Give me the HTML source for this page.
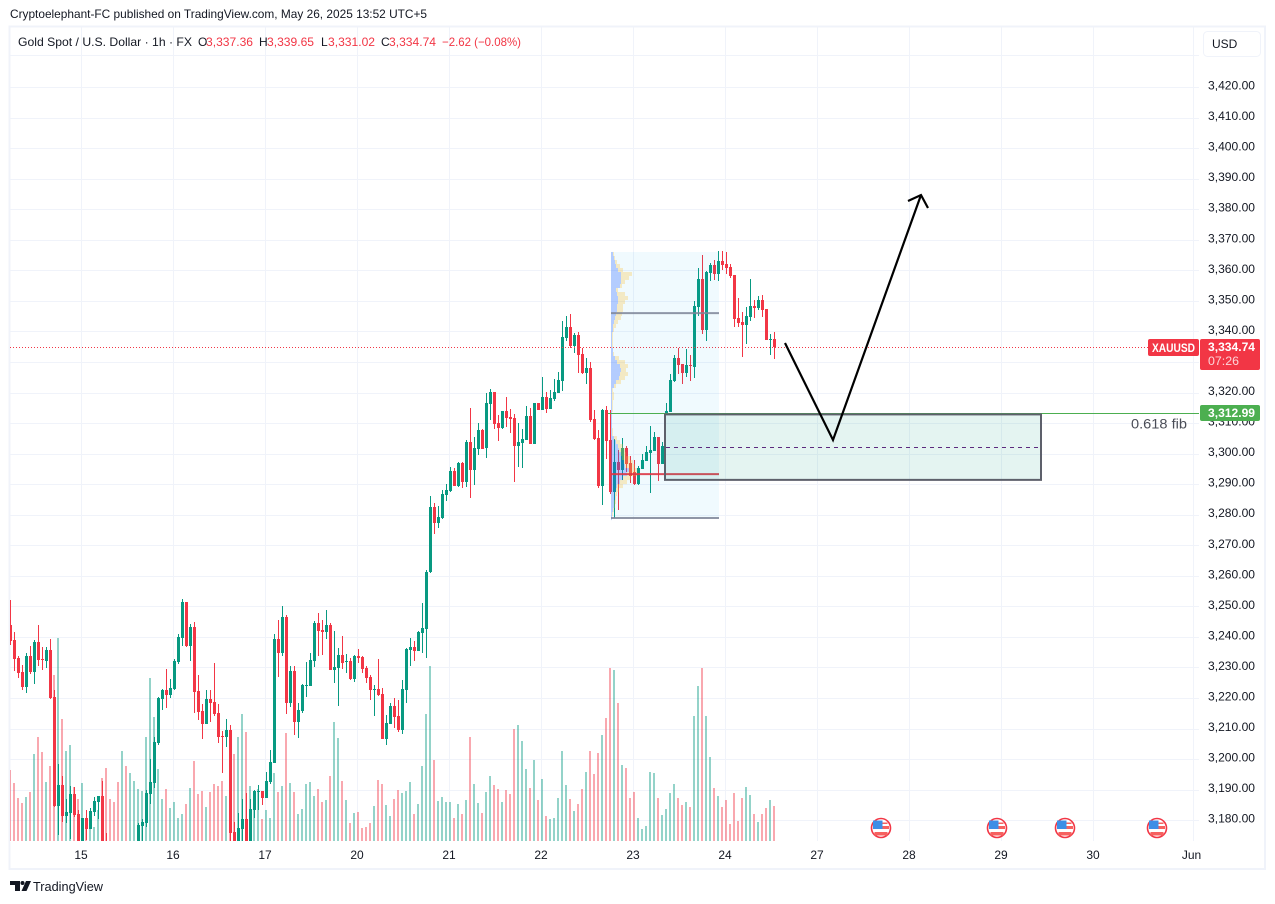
<!DOCTYPE html>
<html lang="en">
<head>
<meta charset="utf-8">
<title>XAUUSD chart</title>
<style>
html,body{margin:0;padding:0;background:#fff;width:1275px;height:904px;overflow:hidden}
svg{display:block;position:absolute;left:0;top:0}
text{font-family:"Liberation Sans",Arial,sans-serif}
</style>
</head>
<body>
<svg id="chart" width="1275" height="904" viewBox="0 0 1275 904" xmlns="http://www.w3.org/2000/svg">
  <defs><clipPath id="pane-clip"><rect x="10" y="27" width="1189" height="814"/></clipPath></defs>
  <rect x="9.5" y="26.5" width="1255.5" height="842.5" fill="none" stroke="#f0f3fa" stroke-width="2"/>
  <line x1="10" y1="841.5" x2="1199" y2="841.5" stroke="#ffffff"/>
  <g id="grid" clip-path="url(#pane-clip)"></g>
  <g id="volumes" clip-path="url(#pane-clip)"></g>
  <g id="candles" clip-path="url(#pane-clip)"></g>
  <g id="drawings" clip-path="url(#pane-clip)"></g>
  <g id="events"></g>
  <g id="y-axis"></g>
  <g id="x-axis"></g>

  <text x="10" y="18" font-size="12" fill="#131722" textLength="417" lengthAdjust="spacingAndGlyphs">Cryptoelephant-FC published on TradingView.com, May 26, 2025 13:52 UTC+5</text>
  <g font-size="12">
    <text x="18" y="46" fill="#131722" textLength="174" lengthAdjust="spacingAndGlyphs">Gold Spot / U.S. Dollar · 1h · FX</text>
    <text x="198" y="46" fill="#131722">O</text>
    <text x="206" y="46" fill="#f23645" textLength="47" lengthAdjust="spacingAndGlyphs">3,337.36</text>
    <text x="259" y="46" fill="#131722">H</text>
    <text x="267" y="46" fill="#f23645" textLength="47" lengthAdjust="spacingAndGlyphs">3,339.65</text>
    <text x="321" y="46" fill="#131722">L</text>
    <text x="328" y="46" fill="#f23645" textLength="47" lengthAdjust="spacingAndGlyphs">3,331.02</text>
    <text x="381" y="46" fill="#131722">C</text>
    <text x="389" y="46" fill="#f23645" textLength="47" lengthAdjust="spacingAndGlyphs">3,334.74</text>
    <text x="442" y="46" fill="#f23645" textLength="79" lengthAdjust="spacingAndGlyphs">−2.62 (−0.08%)</text>
  </g>

  <rect x="1203.5" y="31.5" width="57" height="25" rx="4" fill="#fff" stroke="#f0f3fa"/>
  <text x="1212" y="48" font-size="12" fill="#131722">USD</text>

  <text x="1131" y="428.5" font-size="14" fill="#4a4d57" textLength="56" lengthAdjust="spacingAndGlyphs">0.618 fib</text>

  <rect x="1148" y="339" width="51" height="17" rx="2" fill="#f23645"/>
  <text x="1152" y="352" font-size="12" font-weight="bold" fill="#fff" textLength="43" lengthAdjust="spacingAndGlyphs">XAUUSD</text>
  <rect x="1200" y="339" width="60" height="31" rx="2" fill="#f23645"/>
  <text x="1208" y="351" font-size="12" font-weight="bold" fill="#fff" textLength="47" lengthAdjust="spacingAndGlyphs">3,334.74</text>
  <text x="1208" y="365" font-size="12" fill="#fcd5d8" textLength="31" lengthAdjust="spacingAndGlyphs">07:26</text>
  <rect x="1200" y="405" width="60" height="16" rx="2" fill="#4caf50"/>
  <text x="1208" y="417" font-size="12" font-weight="bold" fill="#fff" textLength="47" lengthAdjust="spacingAndGlyphs">3,312.99</text>

  <g>
    <path d="M10 881h10v10h-5v-6h-5z" fill="#131722"/>
    <circle cx="22.5" cy="883" r="2" fill="#131722"/>
    <path d="M26 881h5l-4.5 10h-5z" fill="#131722"/>
    <text x="33" y="891" font-size="13" fill="#131722" textLength="70" lengthAdjust="spacingAndGlyphs">TradingView</text>
  </g>
</svg>

<script>
const opens = [3243.9,3239.0,3233.1,3228.5,3223.6,3233.7,3228.5,3238.3,3232.8,3232.1,3235.7,3220.3,3184.7,3191.5,3181.4,3182.4,3188.6,3182.0,3169,3180.7,3177.1,3182.7,3186.0,3187.9,3170,3165,3162,3160,3158,3165,3161,3165,3169,3178.1,3179.1,3188.6,3192.2,3205.3,3219.7,3222.6,3221.0,3222.9,3231.8,3239.6,3251.4,3237.0,3243.2,3222.3,3215.7,3211.5,3219.7,3218.7,3215.1,3207.6,3207.2,3209.5,3176.1,3171,3177.1,3180.4,3171,3183.4,3189.2,3189.6,3187.3,3192.5,3198.7,3239.3,3234.7,3246.5,3218.4,3228.8,3212.1,3215.7,3223.9,3223.9,3232.1,3244.5,3242.3,3241.6,3243.9,3229.2,3229.8,3234.1,3231.8,3232.1,3226.2,3233.7,3233.4,3229.8,3226.9,3222.6,3222.9,3221.3,3206.6,3211.5,3217.4,3214.1,3209.5,3222.6,3235.7,3236.7,3235.4,3241.3,3242.6,3261.2,3282.5,3277.3,3278.9,3286.4,3287.7,3294.3,3289.4,3296.9,3290.7,3303.8,3294.6,3301.5,3307.7,3301.8,3316.2,3320.1,3310.0,3308.4,3313.9,3311.9,3311.6,3302.5,3303.4,3304.4,3312.3,3303.1,3316.5,3314.2,3318.5,3314.6,3317.8,3319.8,3323.7,3337.8,3341.4,3335.2,3338.8,3332.6,3326.4,3328.0,3311.3,3305.1,3289.4,3314.2,3304.4,3287.4,3297.2,3294.6,3301.8,3296.9,3294.0,3290.0,3294.9,3297.6,3300.2,3300.8,3305.4,3296.6,3313.1,3313.6,3323.7,3331.3,3329.3,3326.4,3329.0,3328.3,3348.0,3357.1,3340.4,3359.1,3361.7,3358.8,3363.0,3362.0,3361.1,3358.4,3344.4,3343.1,3342.1,3344.7,3348.3,3347.6,3350.3,3347.3,3337.2,3337.36];
const highs = [3252.1,3241.6,3233.7,3230.8,3234.7,3237.0,3239.0,3243.9,3236.7,3236.7,3239.3,3222.6,3198.4,3194.5,3186.9,3191.2,3190.9,3183.4,3180.7,3183.4,3184.0,3187.6,3187.9,3192.8,3175.8,3168,3165,3164,3166,3168,3167,3170,3179.1,3180.4,3189.9,3200.0,3207.2,3220.3,3222.9,3229.5,3226.2,3232.8,3240.9,3252.4,3251.4,3244.2,3244.9,3227.5,3218.0,3222.6,3222.6,3231.5,3218.0,3209.2,3213.1,3211.2,3179.4,3182.4,3186.9,3188.9,3186.9,3189.9,3191.5,3189.6,3195.8,3203.0,3240.9,3245.5,3250.1,3247.2,3230.5,3230.5,3218.4,3224.6,3231.8,3234.7,3245.2,3247.8,3245.5,3248.8,3244.5,3241.9,3236.4,3240.3,3234.4,3233.1,3234.1,3236.0,3233.7,3230.5,3227.5,3224.3,3232.8,3223.3,3214.4,3218.4,3220.0,3219.4,3225.9,3236.4,3239.6,3238.7,3241.9,3251.1,3262,3286.1,3283.8,3282.8,3288.1,3290.0,3295.6,3295.3,3297.2,3297.2,3304.4,3314.9,3305.4,3310.0,3308.0,3319.8,3321.1,3320.1,3312.6,3313.9,3318.5,3314.6,3312.9,3310.0,3308.0,3315.6,3314.9,3316.5,3316.5,3325.0,3320.1,3320.8,3324.4,3326.7,3343.4,3345.0,3345.7,3339.4,3339.8,3334.5,3331.3,3329.9,3314.2,3307.7,3314.6,3315.6,3314.2,3304.8,3301.2,3305.1,3302.5,3299.2,3297.9,3295.9,3299.9,3302.5,3309.0,3307.1,3305.4,3303.8,3316.6,3326.0,3332.3,3334.6,3329.3,3334.2,3332.3,3349.9,3360.7,3365.0,3359.8,3362.4,3363.4,3366.3,3366.3,3366.0,3362.0,3358.4,3350.9,3346.3,3348.0,3357.1,3350.3,3351.6,3351.9,3347.3,3339.1,3339.65];
const lows = [3237.3,3228.8,3226.5,3222.6,3221.6,3227.8,3224.6,3230.5,3229.2,3229.8,3219.7,3184.3,3175.2,3179.4,3179.1,3173.9,3181.1,3165,3166,3173.5,3177.1,3181.4,3180.4,3166,3162,3160,3158,3157,3156,3160,3160,3163,3167,3173.2,3177.8,3185.3,3190.5,3204.6,3216.1,3216.7,3220.0,3222.6,3231.1,3237.0,3236.7,3232.1,3215.1,3212.8,3206.6,3211.5,3212.1,3214.1,3205.3,3195.5,3204.0,3173.2,3166,3169,3173.2,3169,3169,3180.7,3183.4,3185.0,3187.3,3191.8,3198.7,3226.9,3233.7,3214.8,3217.1,3207.9,3206.9,3215.1,3220.3,3223.9,3230.2,3233.7,3234.1,3239.3,3229.2,3224.9,3217.4,3229.5,3228.2,3225.9,3225.2,3231.5,3228.2,3224.9,3219.3,3214.1,3220.7,3206.6,3204.6,3211.5,3210.2,3208.9,3208.2,3218.4,3230.5,3232.1,3235.4,3234.7,3233.1,3261,3273.7,3275.6,3278.6,3284.5,3287.4,3289.4,3289.0,3288.7,3289.0,3285.4,3289.7,3299.5,3301.5,3298.5,3311.0,3308.0,3304.1,3308.0,3308.7,3306.7,3290.7,3295.6,3295.3,3304.4,3303.1,3303.1,3314.2,3314.2,3313.3,3314.6,3317.2,3319.8,3320.5,3336.8,3334.5,3332.9,3326.4,3326.0,3322.8,3310.3,3304.4,3288.7,3283.2,3298.2,3286.8,3279.0,3281.5,3291.3,3294.0,3290.3,3289.7,3289.7,3294.9,3297.6,3287.1,3300.8,3291.0,3296.6,3313.1,3313.6,3323.4,3326.0,3322.8,3325.1,3323.7,3324.7,3345.0,3339.1,3336.8,3356.5,3356.8,3356.5,3360.1,3358.8,3357.5,3341.4,3341.4,3331.6,3335.9,3343.4,3344.4,3347.0,3344.7,3337.2,3332.3,3331.02];
const closes = [3238.7,3232.8,3228.2,3223.6,3233.7,3228.5,3238.3,3232.4,3232.4,3235.7,3220.0,3184.7,3191.5,3181.4,3182.7,3188.6,3181.7,3168,3180.7,3177.1,3183.0,3186.3,3187.9,3168,3165,3162,3160,3158,3165,3161,3165,3169,3178.4,3179.4,3188.9,3192.5,3205.6,3220.0,3222.6,3221.0,3223.3,3232.1,3240.0,3251.4,3237.0,3243.2,3222.0,3215.4,3211.5,3219.7,3218.4,3214.8,3207.2,3207.2,3209.5,3175.8,3169,3177.5,3180.4,3171,3183.7,3189.6,3189.6,3187.3,3192.8,3199.0,3239.3,3234.7,3246.5,3218.4,3228.8,3212.1,3216.1,3224.3,3224.3,3232.4,3244.5,3241.9,3241.6,3243.9,3229.2,3230.1,3234.1,3231.5,3232.1,3226.2,3233.7,3233.1,3229.5,3226.5,3222.6,3222.9,3221.0,3206.6,3211.8,3217.4,3213.8,3209.5,3222.9,3236.0,3236.7,3235.4,3241.6,3242.9,3261.2,3282.5,3277.3,3279.2,3286.8,3288.1,3294.3,3289.4,3296.9,3290.7,3303.8,3294.6,3301.8,3307.7,3301.5,3316.5,3320.1,3309.7,3308.4,3313.9,3311.6,3311.3,3302.5,3303.8,3304.8,3312.3,3303.1,3316.5,3314.2,3318.5,3314.6,3318.2,3320.1,3324.1,3338.1,3341.4,3335.2,3338.8,3332.2,3326.4,3328.0,3311.0,3304.8,3289.4,3314.2,3304.1,3287.4,3297.2,3294.6,3301.8,3296.6,3292.7,3290.0,3295.3,3297.9,3300.5,3301.2,3305.4,3296.6,3302.5,3313.9,3324.1,3331.3,3329.0,3326.4,3329.0,3328.7,3348.3,3357.1,3340.4,3359.4,3361.7,3358.8,3363.0,3361.7,3360.7,3358.1,3344.0,3342.7,3342.1,3345.0,3348.3,3347.6,3350.3,3347.0,3337.2,3337.5,3334.74];
const volumes = [213,174,129,114,132,147,261,312,267,177,225,498,609,366,270,288,162,126,174,53,63,42,93,189,219,126,117,177,270,225,204,180,156,150,312,489,372,216,126,156,99,117,69,81,111,159,240,141,150,102,147,171,165,180,135,190,261,312,381,327,165,150,156,66,93,69,204,147,165,324,174,147,81,96,171,177,135,156,117,123,195,357,309,180,123,54,84,87,39,42,54,105,183,171,108,75,126,153,144,150,177,81,111,225,381,525,243,120,132,117,117,69,111,81,123,312,171,114,84,147,195,168,156,117,153,141,336,348,300,216,159,243,123,186,75,66,69,129,270,168,126,90,111,156,207,270,201,264,318,369,519,513,414,228,219,129,147,69,36,45,207,204,129,78,96,144,171,129,108,117,102,375,465,519,375,252,159,135,102,123,51,144,60,129,162,138,81,57,81,99,123,105];
const priceTicks = [3420,3410,3400,3390,3380,3370,3360,3350,3340,3330,3320,3310,3300,3290,3280,3270,3260,3250,3240,3230,3220,3210,3200,3190,3180];
const priceTickLabels = ["3,420.00","3,410.00","3,400.00","3,390.00","3,380.00","3,370.00","3,360.00","3,350.00","3,340.00","3,330.00","3,320.00","3,310.00","3,300.00","3,290.00","3,280.00","3,270.00","3,260.00","3,250.00","3,240.00","3,230.00","3,220.00","3,210.00","3,200.00","3,190.00","3,180.00"];
const dayLabels = ["15","16","17","20","21","22","23","24","27","28","29","30","Jun"];
const dayBars = [17.875,40.875,63.875,86.875,109.875,132.875,155.875,178.875,201.875,224.875,247.875,270.875,295.75];
const vpUp = [2,3,4,5,7,10,10,10,9,5,6,7,7,6,6,5,4,3,2,2,1,1,1,1,2,2,4,6,9,10,9,8,5,3,1,1,1,1,1,1,1,1,1,1,1,1,3,5,7,8,10,11,13,14,18,16,12,9,6,5,4,4,3,3,2,1,1];
const vpDown = [1,1,2,4,5,11,8,4,2,2,8,10,7,6,6,6,6,4,3,1,1,1,1,1,0,1,4,8,8,5,8,6,5,2,1,2,2,1,1,1,0,0,0,0,1,1,3,4,5,6,5,8,9,10,8,10,8,7,6,3,2,1,2,1,1,1,0];
const vpTopPrice = 3366;
const vpRowPrice = 1.31;
const lastPrice = 3334.74;
const fibPrice = 3312.99;
const zoneBottomPrice = 3291.4;
const zoneMidPrice = 3302.2;
const vpRangeBars = [150.25, 177.25];
const vpRangePrices = [3366, 3278.9];
const vpLevelPrices = [3346, 3278.9];
const vpPocPrice = 3293.3;
const zoneBars = [163.75, 257.75];
const pathBars = [193.75, 205.75, 227.75];
const pathPrices = [3336.2, 3304.45, 3384.65];
const headBars = [224.5, 227.75, 229.5];
const headPrices = [3382.7, 3384.65, 3380.4];
const eventBars = [217.75, 246.75, 263.75, 286.75];

const SVGNS = 'http://www.w3.org/2000/svg';
const RED = '#f23645';
const GREEN = '#089981';
function yPrice(p){ return 87 + (3420 - p) * 3.055; }
function xBar(i){ return 10 + 4 * i; }
function yVolume(v){ return 841 - v / 3; }
function mk(tag, attrs, parent){
  const el = document.createElementNS(SVGNS, tag);
  for (const k in attrs) el.setAttribute(k, attrs[k]);
  parent.appendChild(el);
  return el;
}
const gridG = document.getElementById('grid');
const volG = document.getElementById('volumes');
const candleG = document.getElementById('candles');
const drawG = document.getElementById('drawings');
const eventG = document.getElementById('events');
const yG = document.getElementById('y-axis');
const xG = document.getElementById('x-axis');

for (let p = 0; p < priceTicks.length; p++) {
  const y = Math.round(yPrice(priceTicks[p])) + 0.5;
  const l = mk('line', {x1:10, x2:1199, y1:y, y2:y, stroke:'#f0f3fa', 'stroke-width':1}, gridG);
  
  
  const t = mk('text', {x:1208, y:yPrice(priceTicks[p]) + 2.5, 'font-size':12, fill:'#131722', textLength:47, lengthAdjust:'spacingAndGlyphs'}, yG);
  t.textContent = priceTickLabels[p];
  
  
}
const topGrid = mk('line', {x1:10, x2:1199, y1:55.5, y2:55.5, stroke:'#f0f3fa', 'stroke-width':1}, gridG);



for (let d = 0; d < dayLabels.length; d++) {
  const x = Math.floor(xBar(dayBars[d])) + 0.5;
  const l = mk('line', {x1:x, x2:x, y1:27, y2:841, stroke:'#f0f3fa', 'stroke-width':1}, gridG);
  
  
  const tx = dayLabels[d] === 'Jun' ? x - 2 : x - 0.5;
  const t = mk('text', {x:tx, y:859, 'font-size':12, fill:'#131722', 'text-anchor':'middle'}, xG);
  t.textContent = dayLabels[d];
  
  
}

for (let i = 0; i < volumes.length; i++) {
  const up = closes[i] >= opens[i];
  const top = Math.round(yVolume(volumes[i]));
  const r = mk('rect', {x:9 + 4 * i, y:top, width:2, height:841 - top, fill:up ? GREEN : RED, 'fill-opacity':0.43}, volG);
  
  
}

for (let i = 0; i < opens.length; i++) {
  const up = closes[i] >= opens[i];
  const color = up ? GREEN : RED;
  const g = mk('g', {fill:color}, candleG);
  
  
  const yH = Math.round(yPrice(highs[i])), yL = Math.round(yPrice(lows[i]));
  const w = mk('rect', {x:xBar(i), y:yH, width:1, height:Math.max(1, yL - yH)}, g);
  
  
  const yT = Math.round(yPrice(Math.max(opens[i], closes[i])));
  const yB = Math.round(yPrice(Math.min(opens[i], closes[i])));
  const b = mk('rect', {x:xBar(i) - 1, y:yT, width:3, height:Math.max(1, yB - yT)}, g);
  
  
}

/* last price dotted line */
const lastY = Math.round(yPrice(lastPrice)) + 0.5;
const lastLine = mk('line', {x1:10, x2:1148, y1:lastY, y2:lastY, stroke:RED, 'stroke-width':1, 'stroke-dasharray':'1 2'}, drawG);



/* fixed range volume profile */
const vpX0 = xBar(vpRangeBars[0]), vpX1 = xBar(vpRangeBars[1]);
const vpY0 = yPrice(vpRangePrices[0]), vpY1 = yPrice(vpRangePrices[1]);
const vpBg = mk('rect', {x:vpX0, y:vpY0, width:vpX1 - vpX0, height:vpY1 - vpY0, fill:'#03a9f4', 'fill-opacity':0.06}, drawG);


for (let k = 0; k < vpUp.length; k++) {
  const y = yPrice(vpTopPrice - k * vpRowPrice);
  const u = mk('rect', {x:vpX0, y:y, width:vpUp[k], height:4, fill:'#2962ff', 'fill-opacity':0.3}, drawG);
  
  
  const d = mk('rect', {x:vpX0 + vpUp[k], y:y, width:vpDown[k], height:4, fill:'#fbc02d', 'fill-opacity':0.28}, drawG);
  
  
}
for (let k = 0; k < vpLevelPrices.length; k++) {
  const y = yPrice(vpLevelPrices[k]);
  const l = mk('line', {x1:vpX0, x2:vpX1, y1:y, y2:y, stroke:'#7c8496', 'stroke-width':2, 'stroke-opacity':0.85}, drawG);
  
  
}
const pocY = yPrice(vpPocPrice);
const poc = mk('line', {x1:vpX0, x2:vpX1, y1:pocY, y2:pocY, stroke:'#dc3545', 'stroke-width':2, 'stroke-opacity':0.9}, drawG);



/* fib line */
const fibY = Math.floor(yPrice(fibPrice)) + 0.5;
const fib = mk('line', {x1:608, x2:1199, y1:fibY, y2:fibY, stroke:'#4caf50', 'stroke-width':1}, drawG);



/* demand zone */
const zX0 = xBar(zoneBars[0]), zX1 = xBar(zoneBars[1]);
const zY0 = yPrice(fibPrice) + 0.5, zY1 = yPrice(zoneBottomPrice);
const zone = mk('rect', {x:zX0, y:zY0, width:zX1 - zX0, height:zY1 - zY0, fill:'#089981', 'fill-opacity':0.11, stroke:'#5d606b', 'stroke-width':2}, drawG);


const midY = Math.round(yPrice(zoneMidPrice)) + 0.5;
const mid = mk('line', {x1:zX0 + 1, x2:zX1 - 1, y1:midY, y2:midY, stroke:'#5c2a7e', 'stroke-width':1, 'stroke-dasharray':'4 4'}, drawG);



/* projected path arrow */
let pathPts = '';
for (let k = 0; k < pathBars.length; k++) pathPts += xBar(pathBars[k]) + ',' + yPrice(pathPrices[k]) + ' ';
const path = mk('polyline', {points:pathPts.trim(), fill:'none', stroke:'#000', 'stroke-width':2.2, 'stroke-linejoin':'miter'}, drawG);


let headPts = '';
for (let k = 0; k < headBars.length; k++) headPts += xBar(headBars[k]) + ',' + yPrice(headPrices[k]) + ' ';
const head = mk('polyline', {points:headPts.trim(), fill:'none', stroke:'#000', 'stroke-width':2.2}, drawG);



/* economic events */
for (let e = 0; e < eventBars.length; e++) {
  const cx = xBar(eventBars[e]);
  const g = mk('g', {}, eventG);
  
  
  const ring = mk('circle', {cx:cx, cy:828, r:9.5, fill:'#fff', stroke:RED, 'stroke-width':1.6}, g);
  
  
  const s1 = mk('rect', {x:cx - 8, y:826, width:16, height:3, fill:'#f6615f'}, g);
  
  
  const s2 = mk('rect', {x:cx - 6.5, y:832, width:13, height:3.5, fill:'#f6615f'}, g);
  
  
  const s3 = mk('rect', {x:cx + 1, y:822.5, width:5.5, height:1.5, fill:'#f6615f'}, g);
  
  
  const canton = mk('rect', {x:cx - 8, y:820.5, width:9.5, height:8.5, fill:'#3d8ee6'}, g);
  
  
}
</script>
</body>
</html>
